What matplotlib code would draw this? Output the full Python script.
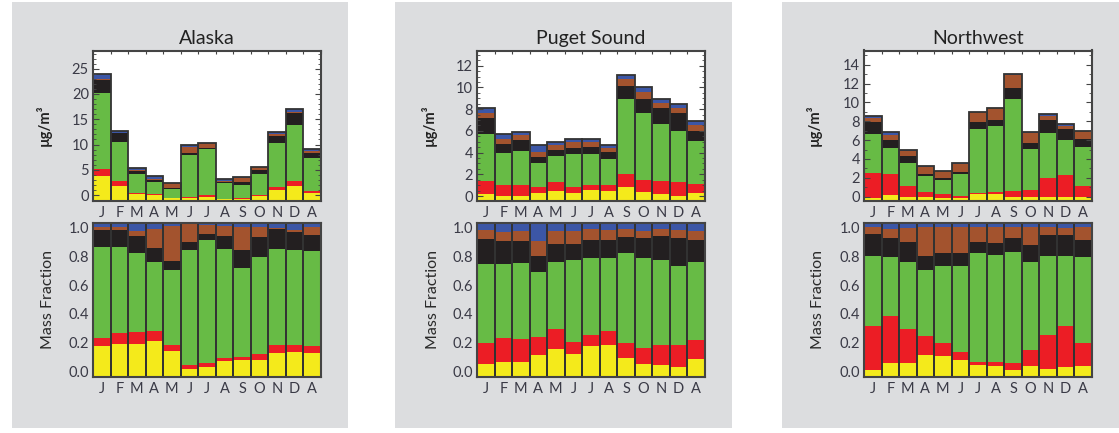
import numpy as np
import matplotlib
matplotlib.use('Agg')
import matplotlib.pyplot as plt
from matplotlib.patches import Rectangle
from matplotlib.ticker import MultipleLocator

plt.rcParams['font.family'] = ['Lato', 'DejaVu Sans']

months = ['J', 'F', 'M', 'A', 'M', 'J', 'J', 'A', 'S', 'O', 'N', 'D', 'A']
regions = ['Alaska', 'Puget Sound', 'Northwest']
colors = ['#f4ea1b', '#ec1d25', '#67bb45', '#231f20', '#a3532e', '#3c56a6']

# top of each layer (yellow, red, green, black, brown, blue), ug/m3
ak_conc = [
    [3.8, 1.77, 0.2, -0.07, -0.6, -0.6, -0.33, -0.85, -0.8, -0.27, 0.9, 1.77, 0.4],
    [5.07, 2.7, 0.4, 0.27, -0.5, -0.33, -0.07, -0.75, -0.6, 0.0, 1.58, 2.7, 0.85],
    [20.1, 10.45, 4.14, 2.56, 1.25, 7.9, 9.07, 2.3, 2.0, 4.14, 10.2, 13.9, 7.4],
    [22.8, 12.2, 4.73, 2.9, 1.38, 8.3, 9.4, 2.6, 2.56, 4.86, 11.7, 16.2, 8.3],
    [23.0, 12.35, 5.0, 3.2, 2.3, 9.6, 10.26, 2.8, 3.4, 5.5, 12.0, 16.5, 8.7],
    [23.9, 12.7, 5.4, 3.7, 2.4, 9.9, 10.3, 3.1, 3.5, 5.6, 12.5, 17.1, 9.1],
]
ps_conc = [
    [0.15, 0.03, 0.03, 0.25, 0.49, 0.25, 0.58, 0.49, 0.83, 0.4, 0.15, 0.03, 0.28],
    [1.38, 1.0, 1.0, 0.8, 1.26, 0.8, 1.04, 1.04, 2.03, 1.48, 1.38, 1.26, 1.14],
    [5.72, 4.0, 4.18, 3.02, 3.66, 3.88, 3.88, 3.45, 8.93, 7.6, 6.62, 5.97, 5.08],
    [7.14, 4.83, 5.17, 3.6, 4.25, 4.43, 4.5, 4.06, 10.1, 8.96, 8.15, 7.6, 6.0],
    [7.66, 5.29, 5.63, 4.06, 4.74, 4.96, 4.96, 4.43, 10.74, 9.57, 8.59, 8.06, 6.58],
    [8.12, 5.69, 5.91, 4.74, 5.01, 5.23, 5.23, 4.74, 11.17, 10.04, 8.93, 8.47, 6.9],
]
nw_conc = [
    [-0.14, 0.15, 0.0, -0.03, -0.14, -0.14, 0.26, 0.26, 0.0, 0.0, 0.0, 0.0, 0.0],
    [2.52, 2.38, 1.1, 0.5, 0.26, 0.11, 0.43, 0.53, 0.64, 0.75, 1.99, 2.28, 1.1],
    [6.6, 5.18, 3.55, 2.2, 1.81, 2.41, 7.2, 7.49, 10.36, 5.04, 6.7, 6.06, 5.29],
    [7.87, 6.03, 4.3, 2.38, 2.02, 2.66, 7.91, 8.16, 11.56, 5.74, 8.09, 7.13, 6.14],
    [8.37, 6.56, 4.83, 3.19, 2.7, 3.51, 8.98, 9.4, 12.95, 6.7, 8.59, 7.52, 6.96],
    [8.55, 6.81, 5.0, 3.22, 2.73, 3.53, 9.0, 9.42, 12.97, 6.85, 8.77, 7.73, 6.98],
]

# top of each layer (yellow, red, green, black, brown), mass fraction; blue fills to the top
ak_frac = [
    [0.178, 0.195, 0.195, 0.211, 0.144, 0.021, 0.031, 0.072, 0.079, 0.079, 0.128, 0.135, 0.128],
    [0.236, 0.267, 0.276, 0.283, 0.185, 0.047, 0.06, 0.095, 0.102, 0.121, 0.185, 0.185, 0.178],
    [0.861, 0.861, 0.82, 0.762, 0.704, 0.845, 0.912, 0.852, 0.72, 0.794, 0.852, 0.843, 0.836],
    [0.984, 0.984, 0.94, 0.859, 0.769, 0.9, 0.951, 0.942, 0.843, 0.933, 0.991, 0.968, 0.949],
    [1.003, 1.003, 0.975, 0.991, 1.01, 1.02, 1.017, 1.01, 1.003, 1.003, 0.998, 0.984, 1.0],
]
ps_frac = [
    [0.053, 0.069, 0.069, 0.119, 0.158, 0.126, 0.176, 0.183, 0.094, 0.053, 0.046, 0.03, 0.085],
    [0.2, 0.233, 0.224, 0.24, 0.298, 0.209, 0.257, 0.281, 0.2, 0.167, 0.183, 0.183, 0.217],
    [0.746, 0.746, 0.753, 0.689, 0.762, 0.771, 0.787, 0.787, 0.822, 0.787, 0.771, 0.73, 0.762],
    [0.918, 0.902, 0.902, 0.803, 0.883, 0.883, 0.911, 0.911, 0.933, 0.924, 0.94, 0.924, 0.909],
    [0.979, 0.966, 0.973, 0.906, 0.973, 0.973, 0.988, 0.979, 0.991, 0.973, 0.991, 0.979, 0.973],
]
nw_frac = [
    [0.014, 0.062, 0.062, 0.119, 0.11, 0.078, 0.046, 0.037, 0.014, 0.037, 0.021, 0.03, 0.037],
    [0.32, 0.387, 0.298, 0.25, 0.199, 0.135, 0.069, 0.069, 0.062, 0.151, 0.257, 0.32, 0.199],
    [0.801, 0.794, 0.762, 0.705, 0.73, 0.73, 0.819, 0.81, 0.826, 0.762, 0.801, 0.801, 0.794],
    [0.954, 0.924, 0.899, 0.803, 0.819, 0.819, 0.899, 0.892, 0.924, 0.876, 0.947, 0.947, 0.909],
    [1.005, 0.988, 0.995, 1.005, 1.005, 1.005, 1.005, 1.005, 1.005, 1.005, 1.005, 0.995, 1.005],
]

conc = [ak_conc, ps_conc, nw_conc]
frac = [ak_frac, ps_frac, nw_frac]
conc_lim = [(-1.12, 28.6), (-0.43, 13.4), (-0.43, 15.5)]
conc_minor = [1, 0.5, 1]
conc_ticks = [[0, 5, 10, 15, 20, 25], [0, 2, 4, 6, 8, 10, 12], [0, 2, 4, 6, 8, 10, 12, 14]]
frac_lim = (-0.035, 1.03)

W, H = 1119, 433
fig = plt.figure(figsize=(W / 100, H / 100), dpi=100)
txt = '#3a3a46'

def box(x0, y0, x1, y1):
    return [x0 / W, 1 - y1 / H, (x1 - x0) / W, (y1 - y0) / H]

panels = [(12, 348), (395, 732), (782, 1119)]
axx = [(93, 321), (477, 705), (864, 1092)]
ylab_x = [-0.18, -0.175, -0.184]

def stack(ax, tops, lim, n_colors):
    x = np.arange(len(months))
    base = np.full(len(months), lim[0])
    bounds = [base] + [np.array(t) for t in tops]
    if len(tops) < n_colors:
        bounds.append(np.full(len(months), lim[1]))
    for i in range(len(bounds) - 1):
        h = bounds[i + 1] - bounds[i]
        ax.bar(x, h, bottom=bounds[i], width=1.0, color=colors[i], linewidth=0)
    ax.bar(x, bounds[-1] - base, bottom=base, width=1.0, fill=False,
           edgecolor='#333333', linewidth=1.3)
    ax.set_xlim(-0.5, len(months) - 0.5)
    ax.set_ylim(*lim)
    ax.set_xticks(x)
    ax.set_xticklabels(months, fontsize=10.5, color=txt)
    ax.tick_params(axis='x', length=0, pad=3.5)
    for s in ax.spines.values():
        s.set_color('#444444')
        s.set_linewidth(1.5)
    ax.tick_params(axis='y', labelsize=10.5, colors=txt, direction='in',
                   right=True, pad=3, length=4)
    ax.tick_params(axis='y', which='minor', direction='in', right=True, length=2)
    ax.tick_params(axis='y', which='both', color='#444444')

for k in range(3):
    x0, x1 = panels[k]
    fig.patches.append(Rectangle((x0 / W, 1 - 428 / H), (x1 - x0) / W, 426 / H,
                                 transform=fig.transFigure, facecolor='#dcdddf',
                                 edgecolor='none', zorder=-10))
    a0, a1 = axx[k]
    ax1 = fig.add_axes(box(a0, 50.5, a1, 200.7))
    stack(ax1, conc[k], conc_lim[k], 6)
    ax1.set_yticks(conc_ticks[k])
    ax1.yaxis.set_minor_locator(MultipleLocator(conc_minor[k]))
    ax1.set_title(regions[k], fontsize=14, color='#222222', pad=5)
    ax1.set_ylabel('µg/m³', fontsize=10.5, color='#222222', fontweight='bold')
    ax1.yaxis.set_label_coords(ylab_x[k], 0.5)
    sec = ax1.secondary_xaxis('top')
    sec.set_xticks(np.arange(len(months) + 1) - 0.5)
    sec.tick_params(direction='in', length=3, labeltop=False, color='#444444')
    sec.spines['top'].set_visible(False)

    ax2 = fig.add_axes(box(a0, 223, a1, 376.8))
    stack(ax2, frac[k], frac_lim, 6)
    ax2.set_yticks([0, 0.2, 0.4, 0.6, 0.8, 1.0])
    ax2.set_yticklabels(['0.0', '0.2', '0.4', '0.6', '0.8', '1.0'])
    ax2.tick_params(axis='y', length=0, right=False)
    ax2.set_ylabel('Mass Fraction', fontsize=11.5, color='#2a2a2a')
    ax2.yaxis.set_label_coords(ylab_x[k] + 0.012, 0.5)

fig.savefig('out.png', dpi=100, facecolor='white')
